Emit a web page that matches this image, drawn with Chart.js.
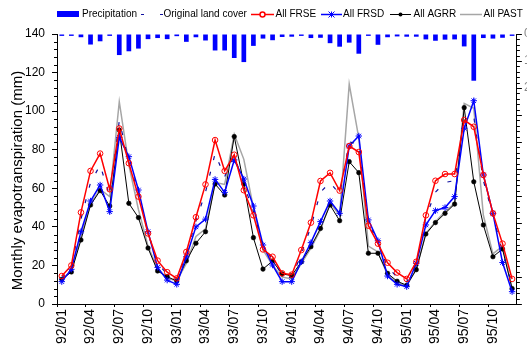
<!DOCTYPE html>
<html>
<head>
<meta charset="utf-8">
<script src="https://cdn.jsdelivr.net/npm/chart.js@4/dist/chart.umd.min.js"></script>
<style>
  html, body { margin: 0; padding: 0; background: #fff; }
  #wrap { width: 531px; height: 352px; }
</style>
</head>
<body>
<div id="wrap"><canvas id="c" width="531" height="352"></canvas></div>
<script>
// Monthly categories, Jan 1992 – Dec 1995
const months = [
  '92/01','92/02','92/03','92/04','92/05','92/06','92/07','92/08','92/09','92/10','92/11','92/12',
  '93/01','93/02','93/03','93/04','93/05','93/06','93/07','93/08','93/09','93/10','93/11','93/12',
  '94/01','94/02','94/03','94/04','94/05','94/06','94/07','94/08','94/09','94/10','94/11','94/12',
  '95/01','95/02','95/03','95/04','95/05','95/06','95/07','95/08','95/09','95/10','95/11','95/12'
];

// Monthly precipitation (mm), plotted downward from the top on the right axis
const precipitation = [
  7, 7, 12, 39, 27, 7, 78, 64, 54, 19, 15, 19,
  8, 29, 12, 24, 61, 61, 89, 104, 44, 17, 23, 11,
  10, 7, 15, 14, 34, 47, 32, 73, 7, 40, 12, 9,
  10, 10, 20, 25, 21, 20, 46, 173, 15, 17, 14, 7
];

// Monthly evapotranspiration (mm) per land-cover scenario
const originalLandCover = [
  13.5, 19, 44, 63, 72, 56, 95, 74, 57, 37, 21, 15.5,
  12.5, 26, 43, 58, 78, 66, 77, 62, 48, 30, 23, 15,
  13.5, 26, 40, 58, 63, 57, 84, 83, 42, 32, 19, 14,
  11.5, 21, 45, 58, 63, 64, 95, 97, 64, 46, 27, 10
];
const allFRSE = [
  14.5, 20, 47.5, 69, 78, 59.5, 91, 73, 55.7, 36.6, 22.5, 16.5,
  13.3, 27, 45, 62, 85, 69, 77.4, 59, 46, 28.3, 24.5, 15.9,
  15.2, 28, 42.2, 63.8, 68, 58.8, 81.9, 78.8, 40.6, 31.3, 21.4, 16.3,
  13, 21.9, 46, 63.9, 67.4, 67.4, 95.4, 91.9, 66.9, 47, 31.3, 13
];
const allFRSD = [
  11.6, 18, 37.5, 53.4, 61.7, 47.9, 86.4, 76.4, 59.1, 37.5, 19, 12.4,
  10.2, 24.5, 40, 44, 64.6, 57.9, 74.7, 64.8, 50.8, 30.6, 20.2, 11.6,
  11.6, 21.9, 31.8, 42.7, 53.4, 47, 81.9, 87.1, 43.6, 32.8, 14.5, 10.2,
  9, 21.1, 41, 48.4, 50, 55.7, 91.1, 105.4, 66.9, 47, 21.5, 6.4
];
const allAGRR = [
  12.8, 16.6, 33.2, 51.3, 58.8, 50.8, 90.2, 52.2, 44.8, 29, 17.1, 14.2,
  11.9, 22.4, 31.5, 37.5, 62.2, 56.5, 86.8, 62.2, 34.4, 18.1, 22.3, 15.6,
  14.7, 21.9, 29.7, 39.2, 51.3, 43.2, 73.8, 68.1, 26.3, 26.3, 15.9, 11.8,
  9.7, 17.8, 36.3, 42.2, 47, 51.8, 101.8, 63.4, 41, 24.5, 28.5, 8
];
const allPAST = [
  13, 17, 35, 52, 59.5, 55.7, 104.9, 72, 49, 30, 18, 13.5,
  12, 21, 35, 39, 63, 62, 88, 75, 50, 28, 20, 14,
  13, 21, 29, 38.4, 52.2, 46.1, 114, 86, 30, 27, 15, 11,
  9.5, 18, 36.6, 42.7, 47.9, 52.2, 104, 101.5, 46, 26, 30, 8
];

// Axis ranges
const etMax = 140, etStep = 20, etMinor = 4;
const rainMax = 1000, rainStep = 100, rainMinor = 20;
const rainLabelMax = 200;

const yTitle = 'Monthly evapotranspiration (mm)';

const FONT = "'Liberation Sans', Arial, sans-serif";
const BLUE = '#0000ff';
const NAVY = '#1010a0';
const RED = '#ff0000';
const GREY = '#a6a6a6';

// Short minor tick marks on both value axes
const minorTicks = {
  id: 'minorTicks',
  afterDraw(chart) {
    const ctx = chart.ctx;
    const yl = chart.scales.y, yr = chart.scales.yRain;
    ctx.save();
    ctx.strokeStyle = '#000';
    ctx.lineWidth = 1;
    ctx.beginPath();
    for (let v = 0; v <= etMax; v += etMinor) {
      if (v % etStep === 0) continue;
      const py = Math.round(yl.getPixelForValue(v)) + 0.5;
      ctx.moveTo(yl.right - 3, py);
      ctx.lineTo(yl.right, py);
    }
    for (let v = 0; v <= rainMax; v += rainMinor) {
      if (v % rainStep === 0) continue;
      const py = Math.round(yr.getPixelForValue(v)) + 0.5;
      ctx.moveTo(yr.left, py);
      ctx.lineTo(yr.left + 3, py);
    }
    ctx.stroke();
    ctx.restore();
  }
};

// Rotated value-axis title, set slightly below the plot's middle
const sideTitle = {
  id: 'sideTitle',
  afterDraw(chart) {
    const ctx = chart.ctx;
    ctx.save();
    ctx.translate(18, 180.5);
    ctx.rotate(-Math.PI / 2);
    ctx.font = '15px ' + FONT;
    ctx.fillStyle = '#000';
    ctx.textAlign = 'center';
    ctx.textBaseline = 'middle';
    ctx.fillText(yTitle, 0, 0);
    ctx.restore();
  }
};

// One-row legend across the top
const topLegend = {
  id: 'topLegend',
  afterDraw(chart) {
    const ctx = chart.ctx;
    const cy = 14.5;
    ctx.save();
    ctx.font = '10px ' + FONT;
    ctx.textBaseline = 'middle';
    ctx.fillStyle = '#000';

    // Precipitation
    ctx.fillStyle = BLUE;
    ctx.fillRect(57, 11, 22, 6);
    ctx.fillStyle = '#000';
    ctx.fillText('Precipitation', 82, cy);

    // Original land cover (dashed)
    ctx.strokeStyle = NAVY;
    ctx.lineWidth = 1.2;
    ctx.setLineDash([3, 16]);
    ctx.beginPath(); ctx.moveTo(141, cy); ctx.lineTo(163, cy); ctx.stroke();
    ctx.setLineDash([]);
    ctx.fillText('Original land cover', 163.5, cy);

    // All FRSE
    ctx.strokeStyle = RED; ctx.lineWidth = 1.5;
    ctx.beginPath(); ctx.moveTo(251, cy); ctx.lineTo(274, cy); ctx.stroke();
    ctx.fillStyle = '#fff';
    ctx.beginPath(); ctx.arc(262.5, cy, 2.5, 0, Math.PI * 2); ctx.fill(); ctx.stroke();
    ctx.fillStyle = '#000';
    ctx.fillText('All FRSE', 275.5, cy);

    // All FRSD
    ctx.strokeStyle = BLUE; ctx.lineWidth = 1.5;
    ctx.beginPath(); ctx.moveTo(321, cy); ctx.lineTo(342, cy); ctx.stroke();
    ctx.lineWidth = 1;
    ctx.beginPath();
    const sx = 331.5, r = 3;
    ctx.moveTo(sx - r, cy - r); ctx.lineTo(sx + r, cy + r);
    ctx.moveTo(sx - r, cy + r); ctx.lineTo(sx + r, cy - r);
    ctx.moveTo(sx, cy - r); ctx.lineTo(sx, cy + r);
    ctx.stroke();
    ctx.fillText('All FRSD', 343, cy);

    // All AGRR
    ctx.strokeStyle = '#000'; ctx.lineWidth = 1;
    ctx.beginPath(); ctx.moveTo(390, cy); ctx.lineTo(411, cy); ctx.stroke();
    ctx.beginPath(); ctx.arc(400.5, cy, 2, 0, Math.PI * 2); ctx.fill();
    ctx.fillText('All AGRR', 413.5, cy);

    // All PAST
    ctx.strokeStyle = GREY; ctx.lineWidth = 1.5;
    ctx.beginPath(); ctx.moveTo(460, cy); ctx.lineTo(482, cy); ctx.stroke();
    ctx.fillText('All PAST', 483.5, cy);
    ctx.restore();
  }
};

const xTickColor = c => (c.index % 3 === 0 ? '#000' : 'rgba(0,0,0,0)');

new Chart(document.getElementById('c'), {
  data: {
    labels: months,
    datasets: [
      {
        type: 'bar', label: 'Precipitation', data: precipitation, yAxisID: 'yRain',
        backgroundColor: BLUE, borderWidth: 0, barPercentage: 0.49, categoryPercentage: 1, order: 9
      },
      {
        type: 'line', label: 'All PAST', data: allPAST, yAxisID: 'y',
        borderColor: GREY, borderWidth: 1.5, pointRadius: 0, tension: 0, order: 6
      },
      {
        type: 'line', label: 'All AGRR', data: allAGRR, yAxisID: 'y',
        borderColor: '#000', borderWidth: 1, pointRadius: 2.3, pointStyle: 'circle',
        pointBackgroundColor: '#000', pointBorderColor: '#000', pointBorderWidth: 0.5, tension: 0, order: 5
      },
      {
        type: 'line', label: 'All FRSD', data: allFRSD, yAxisID: 'y',
        borderColor: BLUE, borderWidth: 1.5, pointRadius: 3.2, pointStyle: 'star',
        pointBorderColor: BLUE, pointBackgroundColor: BLUE, pointBorderWidth: 1, tension: 0, order: 4
      },
      {
        type: 'line', label: 'Original land cover', data: originalLandCover, yAxisID: 'y',
        borderColor: NAVY, borderWidth: 1.2, borderDash: [4, 12], pointRadius: 0, tension: 0, order: 3
      },
      {
        type: 'line', label: 'All FRSE', data: allFRSE, yAxisID: 'y',
        borderColor: RED, borderWidth: 1.5, pointRadius: 2.8, pointStyle: 'circle',
        pointBorderColor: RED, pointBackgroundColor: 'rgba(255,255,255,0)', pointBorderWidth: 1, tension: 0, order: 2
      }
    ]
  },
  options: {
    responsive: false,
    animation: false,
    devicePixelRatio: 1,
    layout: { padding: { top: 34, left: 0, right: 0, bottom: 0 } },
    plugins: { legend: { display: false }, tooltip: { enabled: false } },
    scales: {
      x: {
        type: 'category',
        offset: true,
        grid: {
          offset: true, drawOnChartArea: false, drawTicks: true, tickLength: 3,
          color: xTickColor, tickColor: xTickColor
        },
        border: { display: true, color: '#000', width: 1 },
        ticks: {
          autoSkip: false, maxRotation: 90, minRotation: 90, padding: 2,
          color: '#000', font: { family: FONT, size: 14 },
          callback: (v, i) => (i % 3 === 0 ? months[i] : '')
        },
        afterFit: s => { s.height = 48; }
      },
      y: {
        position: 'left',
        min: 0, max: etMax,
        grid: { drawOnChartArea: false, drawTicks: true, tickLength: 5, color: '#000' },
        border: { display: true, color: '#000', width: 1 },
        ticks: { stepSize: etStep, padding: 7, color: '#000', font: { family: FONT, size: 12 } },
        afterFit: s => { s.width = 57; }
      },
      yRain: {
        position: 'right',
        reverse: true,
        min: 0, max: rainMax,
        grid: { drawOnChartArea: false, drawTicks: true, tickLength: 5, color: '#000' },
        border: { display: true, color: '#000', width: 1 },
        ticks: {
          stepSize: rainStep, padding: 2, color: '#888', font: { family: FONT, size: 12 },
          callback: v => (v <= rainLabelMax ? String(v) : '')
        },
        afterFit: s => { s.width = 10; }
      }
    }
  },
  plugins: [minorTicks, sideTitle, topLegend]
});
</script>
</body>
</html>
